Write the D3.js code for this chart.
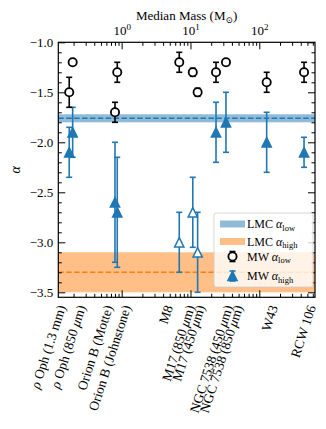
<!DOCTYPE html>
<html>
<head>
    <script src="https://cdn.jsdelivr.net/npm/d3@7"></script>
    <style>
        body { margin: 0; background: #fff; }
        text { font-family: "Liberation Serif", "DejaVu Serif", serif; }
    </style>
</head>

<body>
<div id="chart"></div>

<script>

    // regions, median mass and slopes
    var regions = [
        ['ρ', ' Oph (1.3 mm)'],
        ['ρ', ' Oph (850 ', 'μ', 'm)'],
        ['Orion B (Motte)'],
        ['Orion B (Johnstone)'],
        ['M8'],
        ['M17 (850 ', 'μ', 'm)'],
        ['M17 (450 ', 'μ', 'm)'],
        ['NGC 7538 (450 ', 'μ', 'm)'],
        ['NGC 7538 (850 ', 'μ', 'm)'],
        ['W43'],
        ['RCW 106']
    ];
    var medianMass = [0.173, 0.194, 0.80, 0.863, 6.87, 10.8, 12.7, 23.5, 32.8, 128, 447];
    var labelMass = [0.155, 0.303, 0.748, 1.37, 5.57, 11.6, 16.3, 41.5, 58.0, 187, 667];

    var alphaLow = [-1.5, -1.2, -1.7, -1.3, -1.2, -1.3, -1.5, -1.3, -1.2, -1.4, -1.3];
    var alphaLowErr = [0.15, 0.02, 0.1, 0.1, 0.1, 0.04, 0.04, 0.1, 0.03, 0.1, 0.1];
    var alphaHigh = [-2.1, -1.9, -2.6, -2.7, -3.0, -2.7, -3.1, -1.9, -1.8, -2.0, -2.1];
    var alphaHighErr = [0.25, 0.25, 0.6, 0.55, 0.3, 0.35, 0.4, 0.3, 0.3, 0.3, 0.15];
    var highOpen = [false, false, false, false, true, true, true, false, false, false, false];

    // LMC values: [mean, error]
    var lmcLow = [-1.76, 0.04];
    var lmcHigh = [-3.3, 0.2];

    var yMajor = [-1.0, -1.5, -2.0, -2.5, -3.0, -3.5];
    var xMajor = [1, 10, 100];

    var width = 326, height = 429;
    var pad = { left: 58.3, right: 315, top: 42.3, bottom: 297.3 };
    var blue = '#1f77b4', orange = '#ff7f0e';

    var x = d3.scaleLog().domain([0.12, 645]).range([pad.left, pad.right]);
    var y = d3.scaleLinear().domain([-3.55, -1.0]).range([pad.bottom, pad.top]);

    var svg = d3.select('#chart').append('svg')
        .attr('width', width)
        .attr('height', height);

    // LMC bands
    [[lmcLow, blue], [lmcHigh, orange]].forEach(function(b) {
        svg.append('rect')
            .attr('x', pad.left).attr('width', pad.right - pad.left)
            .attr('y', y(b[0][0] + b[0][1]))
            .attr('height', y(b[0][0] - b[0][1]) - y(b[0][0] + b[0][1]))
            .attr('fill', b[1]).attr('fill-opacity', 0.5);
        svg.append('line')
            .attr('x1', pad.left).attr('x2', pad.right)
            .attr('y1', y(b[0][0])).attr('y2', y(b[0][0]))
            .attr('stroke', b[1]).attr('stroke-width', 1.5)
            .attr('stroke-dasharray', '5.5,2.4');
    });

    // ticks
    var xMinor = [];
    [0.1, 1, 10, 100].forEach(function(dec) {
        for (var k = 2; k <= 9; k++) {
            var v = k * dec;
            if (v > 0.12 && v < 645) xMinor.push(v);
        }
    });
    var yMinor = d3.range(-35, -9).map(function(d) { return d / 10; })
        .filter(function(d) { return Math.round(d * 10) % 5 !== 0; });

    function addAxis(axis, tx, ty) {
        return svg.append('g')
            .attr('transform', 'translate(' + tx + ',' + ty + ')')
            .call(axis)
            .attr('font-family', '"Liberation Serif", serif')
            .attr('font-size', 13)
            .call(function(g) { g.select('.domain').remove(); });
    }

    var topAx = addAxis(d3.axisTop(x).tickValues(xMajor).tickSize(-7).tickPadding(7), 0, pad.top);
    topAx.selectAll('.tick text').each(function(d) {
        var t = d3.select(this);
        t.text(null);
        t.append('tspan').text('10');
        t.append('tspan').attr('dy', -5).attr('font-size', 9).text(Math.round(Math.log10(d)));
    });
    addAxis(d3.axisTop(x).tickValues(xMinor).tickSize(-3.5).tickFormat(''), 0, pad.top);
    addAxis(d3.axisBottom(x).tickValues(xMajor).tickSize(-7).tickFormat(''), 0, pad.bottom);
    addAxis(d3.axisBottom(x).tickValues(xMinor).tickSize(-3.5).tickFormat(''), 0, pad.bottom);

    addAxis(d3.axisLeft(y).tickValues(yMajor).tickSize(-7).tickPadding(5)
        .tickFormat(function(d) { return d3.format('.1f')(d).replace('-', '−'); }), pad.left, 0);
    addAxis(d3.axisLeft(y).tickValues(yMinor).tickSize(-3.5).tickFormat(''), pad.left, 0);
    addAxis(d3.axisRight(y).tickValues(yMajor).tickSize(-7).tickFormat(''), pad.right, 0);
    addAxis(d3.axisRight(y).tickValues(yMinor).tickSize(-3.5).tickFormat(''), pad.right, 0);

    svg.selectAll('.tick line').attr('stroke-width', 1);

    // error bars
    function errorBars(vals, errs, color) {
        var g = svg.append('g').attr('stroke', color).attr('stroke-width', 1.6);
        vals.forEach(function(v, i) {
            var cx = x(medianMass[i]);
            g.append('line').attr('x1', cx).attr('x2', cx)
                .attr('y1', y(v + errs[i])).attr('y2', y(v - errs[i]));
            [v + errs[i], v - errs[i]].forEach(function(e) {
                g.append('line').attr('x1', cx - 3).attr('x2', cx + 3)
                    .attr('y1', y(e)).attr('y2', y(e));
            });
        });
    }
    errorBars(alphaHigh, alphaHighErr, blue);
    errorBars(alphaLow, alphaLowErr, 'black');

    var tri = 'M0,-4.6L4.6,4.6L-4.6,4.6Z';

    svg.append('g').selectAll('path')
        .data(alphaHigh)
        .enter()
        .append('path')
        .attr('d', tri)
        .attr('transform', function(d, i) { return 'translate(' + x(medianMass[i]) + ',' + y(d) + ')'; })
        .attr('fill', function(d, i) { return highOpen[i] ? 'white' : blue; })
        .attr('stroke', blue)
        .attr('stroke-width', 1.5);

    svg.append('g').selectAll('circle')
        .data(alphaLow)
        .enter()
        .append('circle')
        .attr('cx', function(d, i) { return x(medianMass[i]); })
        .attr('cy', function(d) { return y(d); })
        .attr('r', 4.1)
        .attr('fill', 'white')
        .attr('stroke', 'black')
        .attr('stroke-width', 1.8);

    // frame
    svg.append('rect')
        .attr('x', pad.left).attr('y', pad.top)
        .attr('width', pad.right - pad.left).attr('height', pad.bottom - pad.top)
        .attr('fill', 'none').attr('stroke', 'black').attr('stroke-width', 1.2);

    // axis titles
    var title = svg.append('text')
        .attr('x', (pad.left + pad.right) / 2).attr('y', 19.5)
        .attr('text-anchor', 'middle').attr('font-size', 13);
    title.append('tspan').text('Median Mass (M');
    title.append('tspan').attr('font-size', 9).attr('dy', 3).text('⊙');
    title.append('tspan').attr('dy', -3).text(')');

    svg.append('text')
        .attr('transform', 'translate(20,' + (pad.top + pad.bottom) / 2 + ') rotate(-90)')
        .attr('text-anchor', 'middle')
        .attr('font-size', 14).attr('font-style', 'italic')
        .text('α');

    // region labels under the axis
    var labels = svg.append('g').selectAll('text')
        .data(regions)
        .enter()
        .append('text')
        .attr('transform', function(d, i) { return 'translate(' + x(labelMass[i]) + ',307) rotate(-72)'; })
        .attr('text-anchor', 'end')
        .attr('font-size', 13.5);
    labels.each(function(parts) {
        var t = d3.select(this);
        parts.forEach(function(p) {
            t.append('tspan')
                .attr('font-style', (p === 'ρ' || p === 'μ') ? 'italic' : null)
                .text(p);
        });
    });

    // legend
    var lg = svg.append('g').attr('transform', 'translate(214,213)');
    lg.append('rect')
        .attr('width', 99).attr('height', 74).attr('rx', 2)
        .attr('fill', 'white').attr('fill-opacity', 0.8)
        .attr('stroke', '#cccccc').attr('stroke-width', 0.8);

    var items = [
        { kind: 'patch', color: blue, name: 'LMC', sub: 'low', yy: 11 },
        { kind: 'patch', color: orange, name: 'LMC', sub: 'high', yy: 28.5 },
        { kind: 'circle', color: 'black', name: 'MW', sub: 'low', yy: 43.5 },
        { kind: 'tri', color: blue, name: 'MW', sub: 'high', yy: 63 }
    ];
    items.forEach(function(it) {
        var g = lg.append('g').attr('transform', 'translate(0,' + it.yy + ')');
        if (it.kind === 'patch') {
            g.append('rect').attr('x', 6).attr('y', -3.5).attr('width', 25).attr('height', 7)
                .attr('fill', it.color).attr('fill-opacity', 0.5);
        } else {
            g.append('g').attr('stroke', it.color).attr('stroke-width', 1.6)
                .call(function(e) {
                    e.append('line').attr('x1', 18.5).attr('x2', 18.5).attr('y1', -5).attr('y2', 5);
                    e.append('line').attr('x1', 15.5).attr('x2', 21.5).attr('y1', -5).attr('y2', -5);
                    e.append('line').attr('x1', 15.5).attr('x2', 21.5).attr('y1', 5).attr('y2', 5);
                });
            if (it.kind === 'circle') {
                g.append('circle').attr('cx', 18.5).attr('r', 4.1)
                    .attr('fill', 'white').attr('stroke', 'black').attr('stroke-width', 1.8);
            } else {
                g.append('path').attr('d', tri).attr('transform', 'translate(18.5,0)')
                    .attr('fill', blue).attr('stroke', blue).attr('stroke-width', 1.5);
            }
        }
        var t = g.append('text').attr('x', 33).attr('y', 4).attr('font-size', 12);
        t.append('tspan').text(it.name + ' ');
        t.append('tspan').attr('font-style', 'italic').text('α');
        t.append('tspan').attr('font-size', 8.5).attr('dy', 2.5).text(it.sub);
    });

</script>
</body>
</html>
